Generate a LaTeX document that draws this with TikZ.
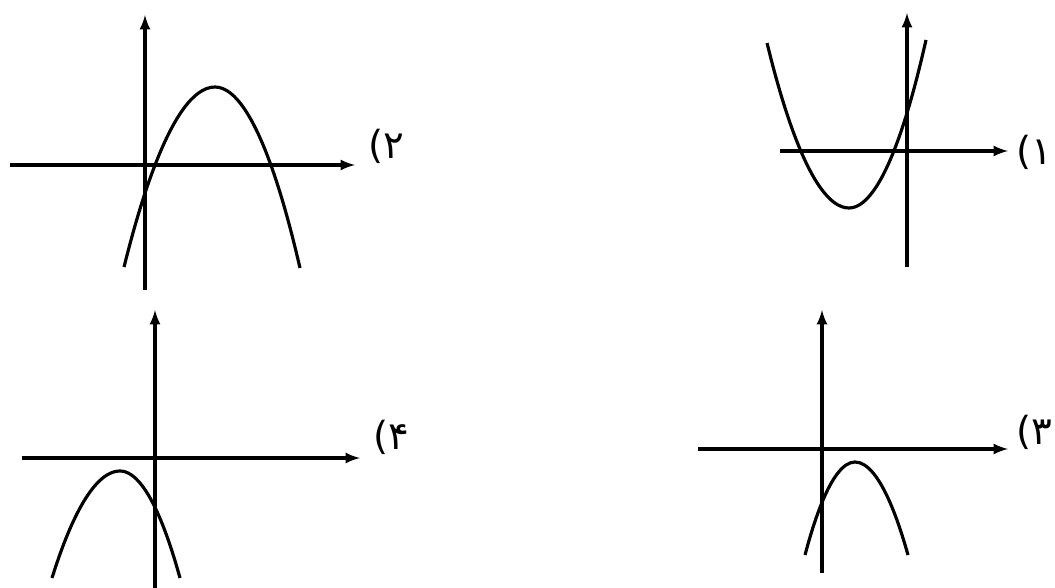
\documentclass[tikz,border=0pt]{standalone}
\usepackage{fontspec}
\newfontfamily\arabicfont[Script=Arabic]{DejaVu Sans}
\begin{document}
\begin{tikzpicture}[x=0.02cm, y=-0.02cm, line width=1.8pt,
    etichetta/.style={font=\arabicfont\fontsize{22}{26}\selectfont, inner sep=0pt}]
        \useasboundingbox (0,0) rectangle (1055,588);
        %grafico 2 (in alto a sinistra)
        \draw[-latex] (10,165)-- (355,165);
        \draw[-latex] (145,290)-- (145,15);
        \draw (124,267) parabola bend (215,87) (300,268);
        \node[etichetta] (l2) at (386,146) {۲)};
        %grafico 1 (in alto a destra)
        \draw[-latex] (780,151)-- (1008,151);
        \draw[-latex] (907,267)-- (907,13);
        \draw (767,43) parabola bend (849,208) (926,40);
        \node[etichetta,anchor=east] (l1) at (1054,152) {۱)};
        %grafico 4 (in basso a sinistra)
        \draw[-latex] (22,458)-- (360,458);
        \draw[-latex] (155,590)-- (155,310);
        \draw (52,578) parabola bend (120,471) (180,578);
        \node[etichetta] (l4) at (391,437) {۴)};
        %grafico 3 (in basso a destra)
        \draw[-latex] (698,449)-- (1008,449);
        \draw[-latex] (822,573)-- (822,310);
        \draw (805,555) parabola bend (855,462) (908,555);
        \node[etichetta,anchor=east] (l3) at (1054,432) {۳)};
    \end{tikzpicture}
\end{document}
